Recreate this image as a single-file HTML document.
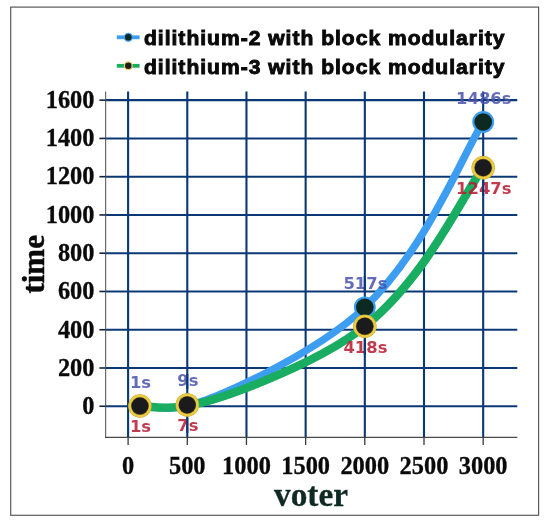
<!DOCTYPE html>
<html><head><meta charset="utf-8"><title>chart</title>
<style>
html,body{margin:0;padding:0;background:#fff;}
body{width:550px;height:528px;overflow:hidden;position:relative;}
svg{position:absolute;left:0;top:0;display:block;}
.ax{font-family:"Liberation Serif",serif;font-weight:bold;font-size:24.4px;fill:#0a0a0a;stroke:#0a0a0a;stroke-width:0.3px;}
.lg{font-family:"Liberation Sans",sans-serif;font-weight:bold;font-size:19.5px;fill:#0a0a0a;stroke:#0a0a0a;stroke-width:0.9px;}
.dl{font-family:"DejaVu Sans",sans-serif;font-weight:bold;font-size:16.4px;stroke-width:0px;opacity:0.85;}
.b{fill:#4a53ae;stroke:none;}
.r{fill:#b81830;stroke:none;}
</style></head><body>
<svg width="550" height="528" viewBox="0 0 550 528">
<rect x="0" y="0" width="550" height="528" fill="#fff"/>
<rect x="10.7" y="7.1" width="527.9" height="508.2" fill="none" stroke="#5a5a5a" stroke-width="1.2"/>
<g stroke="#0a3874" stroke-width="2.1"><line x1="128.10" y1="91.5" x2="128.10" y2="437.3"/><line x1="187.28" y1="91.5" x2="187.28" y2="437.3"/><line x1="246.46" y1="91.5" x2="246.46" y2="437.3"/><line x1="305.64" y1="91.5" x2="305.64" y2="437.3"/><line x1="364.82" y1="91.5" x2="364.82" y2="437.3"/><line x1="424.00" y1="91.5" x2="424.00" y2="437.3"/><line x1="483.18" y1="91.5" x2="483.18" y2="437.3"/><line x1="105.6" y1="406.25" x2="517.3" y2="406.25"/><line x1="105.6" y1="367.99" x2="517.3" y2="367.99"/><line x1="105.6" y1="329.73" x2="517.3" y2="329.73"/><line x1="105.6" y1="291.47" x2="517.3" y2="291.47"/><line x1="105.6" y1="253.21" x2="517.3" y2="253.21"/><line x1="105.6" y1="214.95" x2="517.3" y2="214.95"/><line x1="105.6" y1="176.69" x2="517.3" y2="176.69"/><line x1="105.6" y1="138.43" x2="517.3" y2="138.43"/><line x1="105.6" y1="100.17" x2="517.3" y2="100.17"/></g>
<g stroke="#3a3a3a" stroke-width="1.3"><line x1="105.6" y1="91.5" x2="105.6" y2="437.9" stroke="#6a6a6a" stroke-width="1.2"/><line x1="105" y1="437.3" x2="517.3" y2="437.3" stroke="#4a4a4a" stroke-width="1.3"/><line x1="128.10" y1="437.3" x2="128.10" y2="445"/><line x1="187.28" y1="437.3" x2="187.28" y2="445"/><line x1="246.46" y1="437.3" x2="246.46" y2="445"/><line x1="305.64" y1="437.3" x2="305.64" y2="445"/><line x1="364.82" y1="437.3" x2="364.82" y2="445"/><line x1="424.00" y1="437.3" x2="424.00" y2="445"/><line x1="483.18" y1="437.3" x2="483.18" y2="445"/><line x1="99.4" y1="406.25" x2="105.6" y2="406.25" stroke="#15233a" stroke-width="1.6"/><line x1="99.4" y1="367.99" x2="105.6" y2="367.99" stroke="#15233a" stroke-width="1.6"/><line x1="99.4" y1="329.73" x2="105.6" y2="329.73" stroke="#15233a" stroke-width="1.6"/><line x1="99.4" y1="291.47" x2="105.6" y2="291.47" stroke="#15233a" stroke-width="1.6"/><line x1="99.4" y1="253.21" x2="105.6" y2="253.21" stroke="#15233a" stroke-width="1.6"/><line x1="99.4" y1="214.95" x2="105.6" y2="214.95" stroke="#15233a" stroke-width="1.6"/><line x1="99.4" y1="176.69" x2="105.6" y2="176.69" stroke="#15233a" stroke-width="1.6"/><line x1="99.4" y1="138.43" x2="105.6" y2="138.43" stroke="#15233a" stroke-width="1.6"/><line x1="99.4" y1="100.17" x2="105.6" y2="100.17" stroke="#15233a" stroke-width="1.6"/></g>
<text class="ax" x="94.5" y="414.05" text-anchor="end">0</text><text class="ax" x="94.5" y="375.79" text-anchor="end">200</text><text class="ax" x="94.5" y="337.53" text-anchor="end">400</text><text class="ax" x="94.5" y="299.27" text-anchor="end">600</text><text class="ax" x="94.5" y="261.01" text-anchor="end">800</text><text class="ax" x="94.5" y="222.75" text-anchor="end">1000</text><text class="ax" x="94.5" y="184.49" text-anchor="end">1200</text><text class="ax" x="94.5" y="146.23" text-anchor="end">1400</text><text class="ax" x="94.5" y="107.97" text-anchor="end">1600</text><text class="ax" x="128.10" y="473.7" text-anchor="middle">0</text><text class="ax" x="187.28" y="473.7" text-anchor="middle">500</text><text class="ax" x="246.46" y="473.7" text-anchor="middle">1000</text><text class="ax" x="305.64" y="473.7" text-anchor="middle">1500</text><text class="ax" x="364.82" y="473.7" text-anchor="middle">2000</text><text class="ax" x="424.00" y="473.7" text-anchor="middle">2500</text><text class="ax" x="483.18" y="473.7" text-anchor="middle">3000</text>
<text x="274" y="505.6" textLength="74" lengthAdjust="spacingAndGlyphs" font-family="'Liberation Serif',serif" font-weight="bold" font-size="34" fill="#0f2a22" stroke="#0f2a22" stroke-width="0.3">voter</text>
<text transform="translate(43.6,264.3) rotate(-90)" text-anchor="middle" font-family="'Liberation Serif',serif" font-weight="bold" font-size="31" fill="#0a0a0a" stroke="#0a0a0a" stroke-width="0.5">time</text>
<path d="M139.94,406.06 C147.83,405.80 170.41,411.93 187.28,404.53 C204.28,405.53 315.50,354.44 364.82,307.35 C426.96,248.01 463.45,152.87 483.18,121.98" fill="none" stroke="#3d9df0" stroke-width="7.5" stroke-linecap="round" stroke-linejoin="round"/>
<circle cx="139.94" cy="406.06" r="9.9" fill="#0c2a22" stroke="#3d9df0" stroke-width="2.1"/><circle cx="187.28" cy="404.53" r="9.9" fill="#0c2a22" stroke="#3d9df0" stroke-width="2.1"/><circle cx="364.82" cy="307.35" r="9.9" fill="#0c2a22" stroke="#3d9df0" stroke-width="2.1"/><circle cx="483.18" cy="121.98" r="9.9" fill="#0c2a22" stroke="#3d9df0" stroke-width="2.1"/>
<path d="M139.94,406.06 C147.83,405.87 170.41,410.89 187.28,404.91 C203.28,406.91 315.50,365.82 364.82,326.29 C426.96,276.47 463.45,194.13 483.18,167.70" fill="none" stroke="#18ad60" stroke-width="8.4" stroke-linecap="round" stroke-linejoin="round"/>
<circle cx="139.94" cy="406.06" r="11.75" fill="#bfa632"/><circle cx="139.94" cy="406.06" r="11.3" fill="#ebcb3f"/><circle cx="139.94" cy="406.06" r="9.0" fill="#8a7a28"/><circle cx="139.94" cy="406.06" r="8.5" fill="#1b1b1d"/><circle cx="187.28" cy="404.91" r="11.75" fill="#bfa632"/><circle cx="187.28" cy="404.91" r="11.3" fill="#ebcb3f"/><circle cx="187.28" cy="404.91" r="9.0" fill="#8a7a28"/><circle cx="187.28" cy="404.91" r="8.5" fill="#1b1b1d"/><circle cx="364.82" cy="326.29" r="11.75" fill="#bfa632"/><circle cx="364.82" cy="326.29" r="11.3" fill="#ebcb3f"/><circle cx="364.82" cy="326.29" r="9.0" fill="#8a7a28"/><circle cx="364.82" cy="326.29" r="8.5" fill="#1b1b1d"/><circle cx="483.18" cy="167.70" r="11.75" fill="#bfa632"/><circle cx="483.18" cy="167.70" r="11.3" fill="#ebcb3f"/><circle cx="483.18" cy="167.70" r="9.0" fill="#8a7a28"/><circle cx="483.18" cy="167.70" r="8.5" fill="#1b1b1d"/>
<text class="dl b" x="140.54" y="387.86" text-anchor="middle">1s</text>
<text class="dl b" x="187.88" y="386.33" text-anchor="middle">9s</text>
<text class="dl b" x="365.42" y="289.15" text-anchor="middle">517s</text>
<text class="dl b" x="483.78" y="103.78" text-anchor="middle">1486s</text>
<text class="dl r" x="140.54" y="432.36" text-anchor="middle">1s</text>
<text class="dl r" x="187.88" y="431.21" text-anchor="middle">7s</text>
<text class="dl r" x="365.42" y="352.59" text-anchor="middle">418s</text>
<text class="dl r" x="483.78" y="194.00" text-anchor="middle">1247s</text><g stroke="#0a3874" stroke-width="2.1"><line x1="483.18" y1="180.00" x2="483.18" y2="196.00"/><line x1="364.82" y1="276.00" x2="364.82" y2="291.00"/><line x1="364.82" y1="339.00" x2="364.82" y2="355.00"/><line x1="187.28" y1="374.00" x2="187.28" y2="389.00"/><line x1="187.28" y1="418.00" x2="187.28" y2="433.00"/></g>

<line x1="116.8" y1="37.3" x2="139.6" y2="37.3" stroke="#3d9df0" stroke-width="3.8"/>
<circle cx="128.3" cy="37.3" r="3.9" fill="#0c2a22" stroke="#3d9df0" stroke-width="1.2"/>
<line x1="116.8" y1="65.8" x2="139.6" y2="65.8" stroke="#18ad60" stroke-width="3.8"/>
<circle cx="128.3" cy="65.8" r="3.9" fill="#1d1d1d" stroke="#ecd060" stroke-width="1.3"/>
<text class="lg" transform="translate(144.0,45.3) scale(1.08,1)" textLength="333.8" lengthAdjust="spacing">dilithium-2 with block modularity</text>
<text class="lg" transform="translate(144.0,73.8) scale(1.08,1)" textLength="333.8" lengthAdjust="spacing">dilithium-3 with block modularity</text>
</svg></body></html>
